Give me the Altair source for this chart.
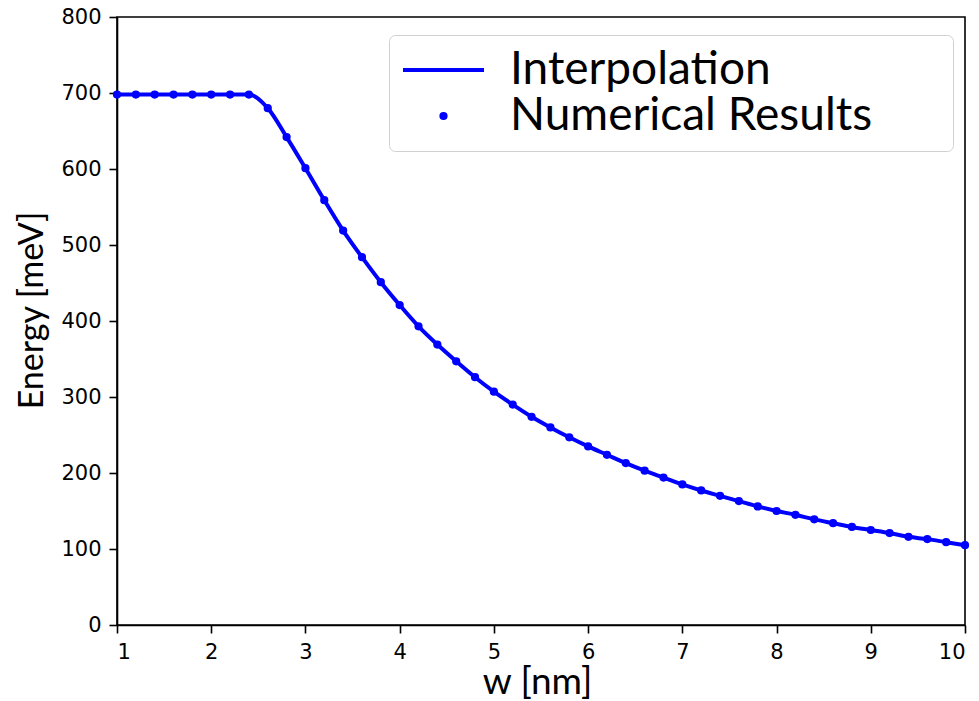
import altair as alt
import pandas as pd

w_nm = [1.0, 1.2, 1.4, 1.6, 1.8, 2.0, 2.2, 2.4, 2.6, 2.8,
        3.0, 3.2, 3.4, 3.6, 3.8, 4.0, 4.2, 4.4, 4.6, 4.8,
        5.0, 5.2, 5.4, 5.6, 5.8, 6.0, 6.2, 6.4, 6.6, 6.8,
        7.0, 7.2, 7.4, 7.6, 7.8, 8.0, 8.2, 8.4, 8.6, 8.8,
        9.0, 9.2, 9.4, 9.6, 9.8, 10.0]
energy_mev = [698, 698, 698, 698, 698, 698, 698, 698, 680, 642,
              601, 559, 519, 484, 451, 421, 393, 369, 347, 326,
              307, 290, 274, 260, 247, 235, 224, 213, 203, 194,
              185, 177, 170, 163, 156, 150, 145, 139, 134, 129,
              125, 121, 116, 113, 109, 105]
series_names = ["Interpolation", "Numerical Results"]
x_ticks = [1, 2, 3, 4, 5, 6, 7, 8, 9, 10]
y_ticks = [0, 100, 200, 300, 400, 500, 600, 700, 800]

BLUE = "#0000ff"

line_df = pd.DataFrame({"w": w_nm, "E": energy_mev, "series": series_names[0]})
pts_df = pd.DataFrame({"w": w_nm, "E": energy_mev, "series": series_names[1]})

x_enc = alt.X("w:Q", scale=alt.Scale(domain=[1, 10], nice=False, zero=False),
              axis=alt.Axis(values=x_ticks, title="w [nm]", format="d",
                            titleX=420, titleY=68, titleBaseline="alphabetic",
                            titleFontSize=37, titleFont="Lato", titleFontWeight="normal",
                            labelPadding=8, tickSize=8))
y_enc = alt.Y("E:Q", scale=alt.Scale(domain=[0, 800], nice=False),
              axis=alt.Axis(values=y_ticks, title="Energy [meV]",
                            titleX=-85, titleY=293, titleBaseline="middle", titleAngle=270,
                            titleAnchor="middle", titleAlign="center",
                            titleFontSize=34, titleFont="Lato", titleFontWeight="normal",
                            labelPadding=8, tickSize=8))

color_scale = alt.Scale(domain=series_names, range=[BLUE, BLUE])

legend = alt.Legend(
    title=None, orient="none", legendX=272, legendY=18,
    rowPadding=0, clipHeight=46,
    symbolStrokeColor=BLUE, symbolStrokeWidth=4, symbolFillColor=BLUE, symbolOpacity=1,
    labelFontSize=46, labelFont="Lato", labelColor="black", labelOffset=24, labelLimit=800,
    labelExpr="datum.label + '\u2800\u2800'",
    padding=12, strokeColor="#d0d0d0", fillColor="white", cornerRadius=6,
)

line = alt.Chart(line_df).mark_line(strokeWidth=4, interpolate="monotone").encode(
    x=x_enc, y=y_enc,
    color=alt.Color("series:N", scale=color_scale, legend=legend),
)

points = alt.Chart(pts_df).mark_point(filled=True, stroke=BLUE, strokeWidth=4, opacity=1).encode(
    x=x_enc, y=y_enc,
    color=alt.Color("series:N", scale=color_scale, legend=legend),
    shape=alt.Shape("series:N", scale=alt.Scale(domain=series_names, range=["stroke", "circle"]),
                    legend=legend),
    size=alt.Size("series:N", scale=alt.Scale(domain=series_names, range=[6561, 18]),
                  legend=legend),
)

chart = alt.layer(line, points).properties(
    width=848, height=608,
    autosize=alt.AutoSizeParams(type="none"),
    padding={"left": 109, "top": 9, "right": 5, "bottom": 76},
).configure_view(
    stroke="black", strokeWidth=1.6
).configure_axis(
    domainColor="black", domainWidth=1.6, tickColor="black", tickWidth=1.6,
    labelFont="DejaVu Sans", labelFontSize=21, labelColor="black",
    titleColor="black", grid=False,
)

chart.save("out.html", embed_options={"renderer": "svg", "actions": False})
